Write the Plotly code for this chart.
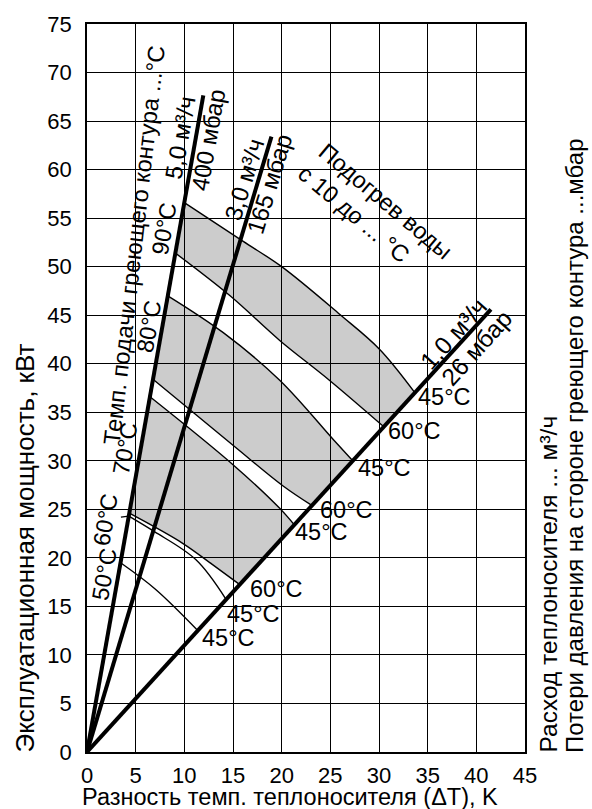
import math
import plotly.graph_objects as go

# ---------------- data ----------------
x_ticks = [0, 5, 10, 15, 20, 25, 30, 35, 40, 45]
y_ticks = [0, 5, 10, 15, 20, 25, 30, 35, 40, 45, 50, 55, 60, 65, 70, 75]

# heating-medium flow lines (from origin)
flow_50_x = [0, 11.95]
flow_50_y = [0, 67.65]
flow_30_x = [0, 18.95]
flow_30_y = [0, 63.4]
flow_10_x = [0, 41.5]
flow_10_y = [0, 45.6]

# supply temperature curves (supply °C / hot-water outlet °C)
c90_45_x = [10.0, 16.05, 20.0, 25.95, 30.05, 33.7]
c90_45_y = [56.6, 52.6, 50.0, 45.1, 41.5, 37.0]
c90_60_x = [9.08, 14.7, 19.8, 24.9, 30.5]
c90_60_y = [51.4, 47.0, 42.4, 38.3, 33.5]
c80_45_x = [8.3, 14.0, 19.8, 25.3, 27.3]
c80_45_y = [47.0, 43.2, 38.3, 32.2, 30.0]
c80_60_x = [6.78, 15.0, 20.15, 23.1]
c80_60_y = [38.4, 31.6, 27.4, 25.4]
c70_45_x = [6.47, 15.0, 19.8, 21.3]
c70_45_y = [36.6, 29.6, 25.1, 23.4]
c70_60_x = [4.35, 9.83, 12.9, 15.7]
c70_60_y = [24.6, 21.5, 19.3, 17.25]
c60_45_x = [4.3, 6.93, 11.2, 14.3]
c60_45_y = [24.3, 22.7, 19.8, 15.7]
c50_45_x = [3.45, 7.0, 11.4]
c50_45_y = [19.5, 16.8, 12.5]

# ---------------- styling ----------------
FONT = "Liberation Sans, Arial, sans-serif"
W_FIG, H_FIG = 592, 809
L, R, T, B = 87, 67, 20, 57
PW = W_FIG - L - R
PH = H_FIG - T - B
X_MAX, Y_MAX = 45, 75
GREY = "rgba(0,0,0,0.2)"
CHAR_W = {"0": .556, "1": .556, "2": .556, "3": .556, "4": .556, "5": .556,
          "6": .556, "7": .556, "8": .556, "9": .556, "°": .4, "C": .722,
          ",": .278, ".": .278, " ": .278, "³": .333, "/": .278, "м": .6,
          "ч": .52, "б": .556, "а": .556, "р": .556, "т": .45, "ы": .7,
          "щ": .8, "ю": .75, "г": .365, "Т": .611, "П": .72, "Д": .7}


def paper(px, py):
    return (px - L) / PW, (H_FIG - B - py) / PH


def data_px(x, y):
    return L + x * PW / X_MAX, T + (Y_MAX - y) * PH / Y_MAX


def text_w(text, size):
    return sum(CHAR_W.get(c, .55) for c in text) * size


fig = go.Figure()
shapes = []
ann = []


def mask(cx, cy, w, h, angle):
    """white rotated rectangle drawn between grid lines and traces"""
    a = math.radians(angle)
    ux, uy = math.cos(a), math.sin(a)
    vx, vy = -math.sin(a), math.cos(a)
    pts = []
    for su, sv in [(-1, -1), (1, -1), (1, 1), (-1, 1)]:
        px = cx + su * ux * w / 2 + sv * vx * h / 2
        py = cy + su * uy * w / 2 + sv * vy * h / 2
        pts.append(paper(px, py))
    path = "M " + " L ".join(f"{x:.5f},{y:.5f}" for x, y in pts) + " Z"
    shapes.append(dict(type="path", path=path, xref="paper", yref="paper",
                       fillcolor="white", line=dict(width=0), layer="between"))


def label(text, px, py, angle=0, size=23, xa="center", ya="middle", masked=True):
    x, y = paper(px, py)
    ann.append(dict(text=text, x=x, y=y, xref="paper", yref="paper",
                    showarrow=False, textangle=angle, xanchor=xa, yanchor=ya,
                    font=dict(family=FONT, size=size, color="black")))
    if masked:
        mask(px, py, text_w(text, size) + 0.3 * size, 0.95 * size, angle)


bands = [
    (c90_60_x, c90_60_y, c90_45_x, c90_45_y),
    (c80_60_x, c80_60_y, c80_45_x, c80_45_y),
    (c70_60_x, c70_60_y, c70_45_x, c70_45_y),
]
for lx, ly, ux, uy in bands:
    fig.add_trace(go.Scatter(x=lx, y=ly, mode="lines",
                             line=dict(color="black", width=1.4, shape="spline"),
                             hoverinfo="skip", showlegend=False))
    fig.add_trace(go.Scatter(x=ux, y=uy, mode="lines", fill="tonexty",
                             fillcolor=GREY,
                             line=dict(color="black", width=1.4, shape="spline"),
                             hoverinfo="skip", showlegend=False))

for cx, cy in [(c60_45_x, c60_45_y), (c50_45_x, c50_45_y)]:
    fig.add_trace(go.Scatter(x=cx, y=cy, mode="lines",
                             line=dict(color="black", width=1.4, shape="spline"),
                             hoverinfo="skip", showlegend=False))

for fx, fy in [(flow_50_x, flow_50_y), (flow_30_x, flow_30_y), (flow_10_x, flow_10_y)]:
    fig.add_trace(go.Scatter(x=fx, y=fy, mode="lines",
                             line=dict(color="black", width=4),
                             hoverinfo="skip", showlegend=False))

# labels at the ends of the curves on the 1,0 m3/h line
end_labels = [
    (c90_45_x, c90_45_y, "45°C", 1, -4),
    (c90_60_x, c90_60_y, "60°C", 2, -4),
    (c80_45_x, c80_45_y, "45°C", 3, -7),
    (c80_60_x, c80_60_y, "60°C", 6, -5),
    (c70_45_x, c70_45_y, "45°C", -1, -7),
    (c70_60_x, c70_60_y, "60°C", 8, -4),
    (c60_45_x, c60_45_y, "45°C", -1, -14),
    (c50_45_x, c50_45_y, "45°C", 2, -7),
]
for cx, cy, t, xs, ys in end_labels:
    ann.append(dict(text=t, x=cx[-1], y=cy[-1], xref="x", yref="y",
                    showarrow=False, xanchor="left", yanchor="middle",
                    xshift=xs, yshift=ys,
                    font=dict(family=FONT, size=23.5, color="black")))
    ex, ey = data_px(cx[-1], cy[-1])
    w = text_w(t, 23.5)
    mask(ex + xs + w / 2, ey - ys, w + 4, 21, 0)

# supply temperature labels along the steep line
label("Темп. подачи греющего контура ...°C", 134, 243, angle=-83.5, size=23.5)
label("90°C", 164, 226, angle=-80, size=23.5)
label("80°C", 149.5, 324, angle=-80, size=23.5)
label("70°C", 125.5, 446.5, angle=-80, size=23.5)
label("50°C", 104.5, 573, angle=-80, size=23.5)

# 60 °C label with leader to start of its curve
ann.append(dict(text="60°C", x=c60_45_x[0], y=c60_45_y[0], xref="x", yref="y",
                showarrow=True, arrowhead=0, arrowwidth=1.2, arrowcolor="black",
                ax=-23, ay=3, textangle=-80,
                font=dict(family=FONT, size=23.5, color="black")))
sx, sy = data_px(c60_45_x[0], c60_45_y[0])
mask(sx - 23, sy + 3, text_w("60°C", 23.5) + 6, 22, -80)

# flow line labels
label("5,0 м³/ч", 180, 134, angle=-80, size=24)
label("400 мбар", 208, 137, angle=-80, size=24)
label("3,0 м³/ч", 244, 176, angle=-73, size=24)
label("165 мбар", 269, 181, angle=-73, size=24)
label("1,0 м³/ч", 453, 332, angle=-48, size=24.5)
label("26 мбар", 476, 346, angle=-48, size=24.5)

# water heating label
label("Подогрев воды", 385, 198, angle=40, size=23.5)
label("с 10 до ... °C", 353.5, 211.5, angle=40, size=23.5)

# blank patch in the grid of the reference
mask(446, 275, 82, 44, 0)

# axis titles
label("Разность темп. теплоносителя (ΔT), K", 290, 797, size=23.5, masked=False)
label("Эксплуатационная мощность, кВт", 25, 755, angle=-90, size=26, ya="bottom",
      masked=False)
label("Расход теплоносителя ... м³/ч", 548, 755, angle=-90, size=24.5, ya="bottom",
      masked=False)
label("Потери давления на стороне греющего контура ...мбар", 575, 755, angle=-90,
      size=24, ya="bottom", masked=False)

axis_common = dict(showgrid=True, gridcolor="black", gridwidth=1.2,
                   zeroline=False, showline=True, linecolor="black", linewidth=1.5,
                   mirror=True, ticks="", tickfont=dict(family=FONT, size=22, color="black"),
                   fixedrange=True)

fig.update_layout(
    width=W_FIG, height=H_FIG,
    margin=dict(l=L, r=R, t=T, b=B, pad=0),
    paper_bgcolor="white", plot_bgcolor="white",
    showlegend=False,
    xaxis=dict(range=[0, X_MAX], tickvals=x_ticks, ticktext=[str(v) for v in x_ticks],
               ticklabelstandoff=3, **axis_common),
    yaxis=dict(range=[0, Y_MAX], tickvals=y_ticks, ticktext=[str(v) for v in y_ticks],
               ticklabelstandoff=9, **axis_common),
    annotations=ann,
    shapes=shapes,
)

fig.write_html("out.html", config={"displayModeBar": False},
               post_script="document.body.style.margin='0';")
